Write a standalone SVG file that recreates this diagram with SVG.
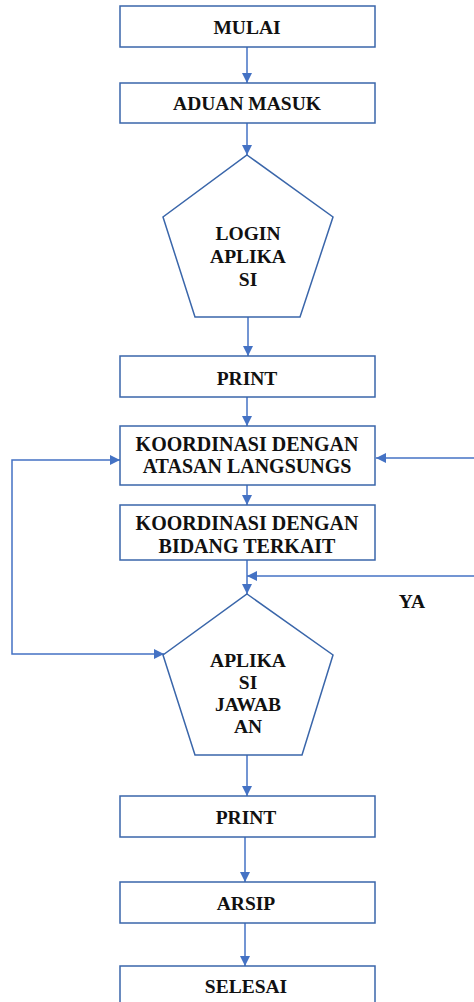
<svg xmlns="http://www.w3.org/2000/svg" width="474" height="1002" viewBox="0 0 474 1002">
<style>
.node{fill:#fff;stroke:#3A66AA;stroke-width:1.5}
.t{font-family:'Liberation Serif','Times New Roman','DejaVu Serif',serif;font-weight:700;font-size:19.5px;fill:#111;text-anchor:middle}
.k{font-size:20px}
.c{fill:none;stroke:#4472C4;stroke-width:1.5}
</style>
<defs>
<marker id="ah" markerUnits="userSpaceOnUse" markerWidth="10" markerHeight="10" viewBox="0 0 10 10" refX="10" refY="5" orient="auto">
<path d="M0,0 L10,5 L0,10 Z" fill="#4472C4"/>
</marker>
<marker id="ahs" markerUnits="userSpaceOnUse" markerWidth="10" markerHeight="10" viewBox="0 0 10 10" refX="10" refY="5" orient="auto-start-reverse">
<path d="M0,0 L10,5 L0,10 Z" fill="#4472C4"/>
</marker>
</defs>
<rect width="474" height="1002" fill="#fff"/>
<g id="connectors">
<line class="c" x1="247" y1="47" x2="247" y2="83" marker-end="url(#ah)"/>
<line class="c" x1="247" y1="123" x2="247" y2="155" marker-end="url(#ah)"/>
<line class="c" x1="248" y1="317" x2="248" y2="356" marker-end="url(#ah)"/>
<line class="c" x1="247" y1="397" x2="247" y2="426" marker-end="url(#ah)"/>
<line class="c" x1="247" y1="485" x2="247" y2="505" marker-end="url(#ah)"/>
<line class="c" x1="247" y1="560" x2="247" y2="594" marker-end="url(#ah)"/>
<line class="c" x1="247" y1="755" x2="247" y2="796" marker-end="url(#ah)"/>
<line class="c" x1="245" y1="837" x2="245" y2="882" marker-end="url(#ah)"/>
<line class="c" x1="245" y1="923" x2="245" y2="966" marker-end="url(#ah)"/>
<polyline class="c" points="164,654 12,654 12,460 120,460" marker-start="url(#ahs)" marker-end="url(#ah)"/>
<line class="c" x1="474" y1="458" x2="376" y2="458" marker-end="url(#ah)"/>
<line class="c" x1="474" y1="576" x2="247" y2="576" marker-end="url(#ah)"/>
</g>
<g id="mulai"><rect class="node" x="120" y="6" width="255" height="41"/><text class="t" x="247" y="34">MULAI</text></g>
<g id="aduan"><rect class="node" x="120" y="83" width="255" height="40"/><text class="t" x="247" y="110">ADUAN MASUK</text></g>
<g id="login"><polygon class="node" points="247,155 333,217 300,317 195,317 163,217"/>
<text class="t" x="248" y="240">LOGIN</text><text class="t" x="248" y="263">APLIKA</text><text class="t" x="248" y="286">SI</text></g>
<g id="print1"><rect class="node" x="120" y="356" width="255" height="41"/><text class="t" x="247" y="385">PRINT</text></g>
<g id="koord1"><rect class="node" x="120" y="426" width="255" height="59"/><text class="t k" x="247" y="451">KOORDINASI DENGAN</text><text class="t k" x="247" y="473">ATASAN LANGSUNGS</text></g>
<g id="koord2"><rect class="node" x="120" y="505" width="255" height="55"/><text class="t k" x="247" y="530">KOORDINASI DENGAN</text><text class="t k" x="247" y="553">BIDANG TERKAIT</text></g>
<g id="ya"><text class="t" x="412" y="608">YA</text></g>
<g id="jawaban"><polygon class="node" points="247,594 333,655 302,755 195,755 163,655"/>
<text class="t" x="248" y="667">APLIKA</text><text class="t" x="248" y="689">SI</text><text class="t" x="248" y="711">JAWAB</text><text class="t" x="248" y="733">AN</text></g>
<g id="print2"><rect class="node" x="120" y="796" width="255" height="41"/><text class="t" x="246" y="824">PRINT</text></g>
<g id="arsip"><rect class="node" x="120" y="882" width="255" height="41"/><text class="t" x="246" y="910">ARSIP</text></g>
<g id="selesai"><rect class="node" x="120" y="966" width="255" height="50"/><text class="t" x="246" y="993">SELESAI</text></g>
</svg>
